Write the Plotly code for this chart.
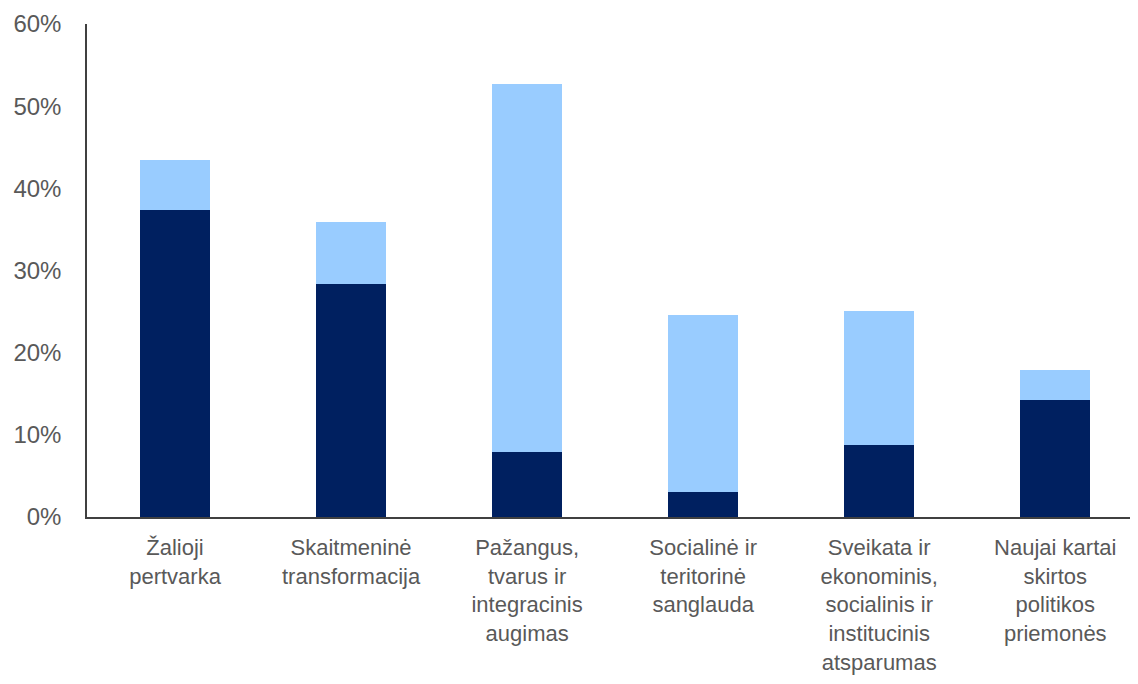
import plotly.graph_objects as go

categories = [
    "Žalioji<br>pertvarka",
    "Skaitmeninė<br>transformacija",
    "Pažangus,<br>tvarus ir<br>integracinis<br>augimas",
    "Socialinė ir<br>teritorinė<br>sanglauda",
    "Sveikata ir<br>ekonominis,<br>socialinis ir<br>institucinis<br>atsparumas",
    "Naujai kartai<br>skirtos<br>politikos<br>priemonės",
]
dark_values = [37.4, 28.4, 7.9, 3.0, 8.8, 14.2]
total_values = [43.5, 35.9, 52.7, 24.6, 25.1, 17.9]
light_values = [round(t - d, 1) for t, d in zip(total_values, dark_values)]
y_ticks = [0, 10, 20, 30, 40, 50, 60]
y_tick_labels = [f"{v}%" for v in y_ticks]

fig = go.Figure()
fig.add_trace(go.Bar(x=categories, y=dark_values, marker=dict(color="#002060", line=dict(width=0)), showlegend=False))
fig.add_trace(go.Bar(x=categories, y=light_values, marker=dict(color="#99CCFF", line=dict(width=0)), showlegend=False))

fig.update_layout(
    barmode="stack",
    bargap=0.6,
    width=1130,
    height=668,
    margin=dict(l=79, r=0, t=16, b=159),
    plot_bgcolor="white",
    paper_bgcolor="white",
    font=dict(family="Liberation Sans, Arial", size=22, color="#595959"),
    xaxis=dict(showline=True, linecolor="#404040", linewidth=1.5, ticks="", showgrid=False,
               range=[-0.5, 5.47],
               ticklabelstandoff=10, tickfont=dict(size=22, color="#595959")),
    yaxis=dict(range=[0, 60], tickvals=y_ticks, ticktext=y_tick_labels, showline=True,
               linecolor="#404040", linewidth=1.5, ticks="", showgrid=False, zeroline=False,
               ticklabelstandoff=19, tickfont=dict(size=24, color="#595959")),
)

fig.write_html("out.html")
